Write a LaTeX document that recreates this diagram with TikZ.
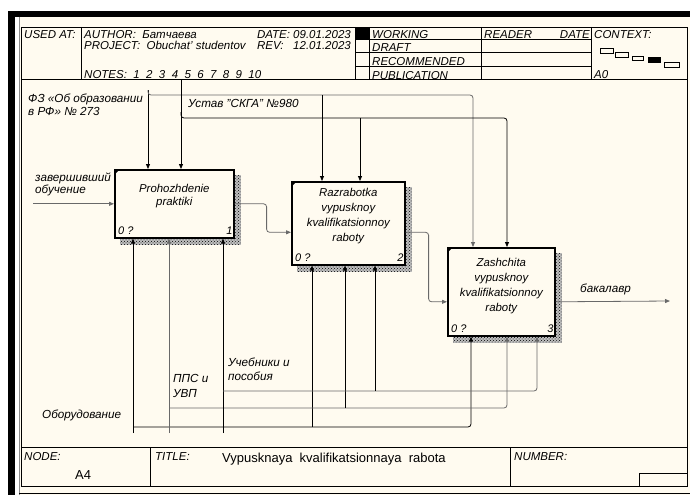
\documentclass[tikz,border=0pt]{standalone}
\usepackage{fontspec}
\setmainfont{Liberation Sans}
\usepackage{tikz}
\usepackage{xcolor}
\usetikzlibrary{arrows.meta, positioning, calc, patterns}

\definecolor{paper}{RGB}{255,251,240}
\definecolor{arrgray}{RGB}{105,105,105}

\tikzset{
  procbox/.style={draw, line width=1.6pt, fill=paper, anchor=north west, inner sep=0pt},
  boxtext/.style={font=\itshape\fontsize{11.4}{15}\selectfont, align=center, inner sep=0pt},
  lbl/.style={font=\itshape\fontsize{11.7}{15}\selectfont, align=left, inner sep=0pt, anchor=north west},
  hdr/.style={font=\itshape\fontsize{11.5}{12}\selectfont, inner sep=0pt, anchor=base west},
  arr/.style={-{Triangle[length=5pt,width=4pt]}, line width=0.8pt, rounded corners=3pt},
  arrg/.style={arr, draw=arrgray},
  shade/.style={preaction={fill=black!25}, pattern=crosshatch dots, pattern color=black}
}

\begin{document}
\begin{tikzpicture}[x=1pt, y=-1pt]
\useasboundingbox (0,0) rectangle (690,495);

% sheet and frame
\fill[paper] (19,17) rectangle (690,495);
\fill[black] (8,11) rectangle (690,17);
\fill[black] (8,11) rectangle (15,495);
\draw[black!45, line width=1pt] (19.5,17) -- (19.5,495);
\draw[line width=0.8pt] (21.5,27) rectangle (687,486);
\draw[line width=0.8pt] (19,493) -- (690,493);

% header
\draw[line width=0.8pt] (21.5,79) -- (687,79);
\draw (81,27) -- (81,79);
\draw (355,27) -- (355,79);
\draw (369,27) -- (369,79);
\draw (481,27) -- (481,79);
\draw (591,27) -- (591,79);
\fill[black] (355,27) rectangle (369,39);
\draw (355,39) -- (591,39);
\draw (355,52) -- (591,52);
\draw (355,66) -- (591,66);
\node[hdr] (usedat) at (24,38) {USED AT:};
\node[hdr] (author) at (84,38) {AUTHOR:\ \ Батчаева};
\node[hdr, anchor=base east] (date) at (351,38) {DATE: 09.01.2023};
\node[hdr] (project) at (84,50) {PROJECT:\ \ Obuchat' studentov};
\node[hdr, anchor=base east] (rev) at (351,50) {REV:\ \ \ 12.01.2023};
\node[hdr] (notes) at (84,78) {NOTES:\ \ 1\ \ 2\ \ 3\ \ 4\ \ 5\ \ 6\ \ 7\ \ 8\ \ 9\ \ 10};
\node[hdr] (working) at (372,39) {WORKING};
\node[hdr] (draft) at (372,52) {DRAFT};
\node[hdr] (recom) at (372,66) {RECOMMENDED};
\node[hdr] (publ) at (372,79) {PUBLICATION};
\node[hdr] (reader) at (484,39) {READER};
\node[hdr, anchor=base east] (rdate) at (590,39) {DATE};
\node[hdr] (context) at (594,38) {CONTEXT:};
\node[hdr] (ctxnode) at (594,78) {A0};
\draw (600,48) rectangle (613,53);
\draw (615,52) rectangle (628,57);
\draw (632,56) rectangle (643,60);
\fill[black] (648,57) rectangle (661,63);
\draw (664,62) rectangle (679,67);

% footer
\draw[line width=0.8pt] (21.5,447) -- (687,447);
\draw (150,447) -- (150,486);
\draw (510,447) -- (510,486);
\draw (639,486) -- (639,473) -- (687,473);
\node[hdr] (nodelbl) at (24,460) {NODE:};
\node[hdr, font=\fontsize{13}{14}\selectfont] (nodeno) at (75,479) {A4};
\node[hdr] (titlelbl) at (155,460) {TITLE:};
\node[hdr, font=\fontsize{13}{14}\selectfont] (title) at (222,462)
    {Vypusknaya\ \ kvalifikatsionnaya\ \ rabota};
\node[hdr] (numlbl) at (514,460) {NUMBER:};

% activity boxes
\node[procbox, minimum width=119pt, minimum height=68pt] (pr1) at (114,169) {};
\node[procbox, minimum width=113pt, minimum height=83pt] (pr2) at (291,181) {};
\node[procbox, minimum width=107pt, minimum height=88pt] (pr3) at (447,247) {};
\foreach \b in {pr1, pr2, pr3} {
  \fill[shade] ([xshift=0.8pt, yshift=-6pt]\b.north east) rectangle ([xshift=6pt, yshift=-6pt]\b.south east);
  \fill[shade] ([xshift=6pt, yshift=-0.8pt]\b.south west) rectangle ([yshift=-6pt]\b.south east);
  \fill[black] (\b.north west) -- ++(6,0) -- ++(-6,6) -- cycle;
  \node[hdr, font=\itshape\fontsize{11}{12}\selectfont] at ([xshift=4pt, yshift=4pt]\b.south west) {0 ?};
}
\node[boxtext, font=\itshape\fontsize{11.4}{13}\selectfont] (pr1t) at ([yshift=8pt]pr1.center) {Prohozhdenie\\praktiki};
\node[boxtext] (pr2t) at ([yshift=7pt]pr2.center) {Razrabotka\\vypusknoy\\kvalifikatsionnoy\\raboty};
\node[boxtext] (pr3t) at ([yshift=6pt]pr3.center) {Zashchita\\vypusknoy\\kvalifikatsionnoy\\raboty};
\node[hdr, anchor=base east, font=\itshape\fontsize{11}{12}\selectfont] (pr1n) at ([xshift=-2pt, yshift=4pt]pr1.south east) {1};
\node[hdr, anchor=base east, font=\itshape\fontsize{11}{12}\selectfont] (pr2n) at ([xshift=-2pt, yshift=4pt]pr2.south east) {2};
\node[hdr, anchor=base east, font=\itshape\fontsize{11}{12}\selectfont] (pr3n) at ([xshift=-2pt, yshift=4pt]pr3.south east) {3};

% input and outputs
\coordinate (inA) at (33,0);
\node[lbl] (inAl) at (35,173) {завершивший\\[-3pt]обучение};
\draw[arrg] (inA |- pr1.west) -- (pr1.west);
\draw[arrg] (pr1.east) -- ++(32,0) |- ([yshift=-9pt]pr2.west);
\draw[arrg] ([yshift=-9pt]pr2.east) -- ++(23,0) |- ([yshift=-10pt]pr3.west);
\coordinate (outB) at (670,301);
\draw[arrg] ([yshift=-10pt]pr3.east) -- (outB);
\node[lbl] (outBl) at (580,284) {бакалавр};

% controls
\coordinate (fz) at (148,90);
\coordinate (fz2) at (322,95);
\coordinate (fz3) at (473,95);
\node[lbl, font=\itshape\fontsize{11.7}{13}\selectfont] (fzl) at (28,94) {ФЗ «Об образовании\\в РФ» № 273};
\draw[arr] (fz) -- (fz |- pr1.north);
\draw[arrg] (fz) |- (fz3) -- (fz3 |- pr3.north);
\draw[arr] (fz2) -- (fz2 |- pr2.north);

\coordinate (ust) at (181,79);
\coordinate (ustj) at (181,112);
\coordinate (ust2) at (360,118);
\coordinate (ust3) at (507,118);
\node[lbl] (ustl) at (188,99) {Устав "СКГА" №980};
\draw[arr] (ust) -- (ust |- pr1.north);
\draw[arr] (ustj) |- (ust3) -- (ust3 |- pr3.north);
\draw[arr] (ust2) -- (ust2 |- pr2.north);

% mechanisms
\coordinate (mObo) at (133,433);
\coordinate (mPps) at (169,433);
\coordinate (mUch) at (223,433);
\coordinate (obo2) at (312,427);
\coordinate (obo3) at (471,427);
\coordinate (pps2) at (345,408);
\coordinate (pps3) at (507,408);
\coordinate (uch2) at (375,391);
\coordinate (uch3) at (537,391);
\node[lbl] (obol) at (42,410) {Оборудование};
\node[lbl] (ppsl) at (173,374) {ППС и\\УВП};
\node[lbl, font=\itshape\fontsize{11.7}{14}\selectfont] (uchl) at (228,358) {Учебники и\\пособия};

\draw[arr] (mObo) -- (mObo |- pr1.south);
\draw[arr] (mObo |- obo3) -| (obo3 |- pr3.south);
\draw[arr] (obo2) -- (obo2 |- pr2.south);

\draw[arrg] (mPps) -- (mPps |- pr1.south);
\draw[arrg] (mPps |- pps3) -| (pps3 |- pr3.south);
\draw[arr] (pps2) -- (pps2 |- pr2.south);

\draw[arr] (mUch) -- (mUch |- pr1.south);
\draw[arrg] (mUch |- uch3) -| (uch3 |- pr3.south);
\draw[arr] (uch2) -- (uch2 |- pr2.south);
\end{tikzpicture}
\end{document}
